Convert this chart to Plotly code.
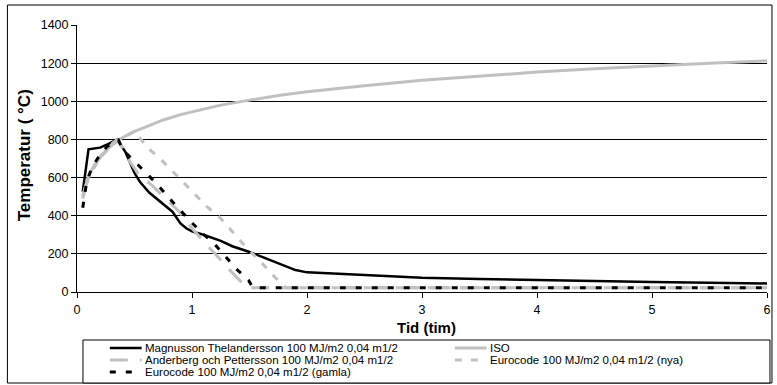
import plotly.graph_objects as go

# ---------------- data ----------------
t_mt = [0.05, 0.1, 0.2, 0.27, 0.35, 0.42, 0.5, 0.55, 0.63, 0.75, 0.83, 0.9, 0.95, 1.0, 1.1, 1.25, 1.35,
        1.5, 1.75, 1.9, 2.0, 2.25, 2.5, 3.0, 3.5, 4.0, 4.5, 5.0, 5.5, 6.0]
T_mt = [526, 748, 757, 775, 800, 735, 625, 575, 520, 460, 421, 360, 334, 318, 300, 268, 240,
        210, 150, 115, 103, 95, 88, 75, 68, 62, 57, 52, 48, 45]

t_iso = [0.05, 0.1, 0.15, 0.2, 0.25, 0.35, 0.5, 0.6, 0.75, 0.9, 1.0, 1.25, 1.5, 1.75, 2.0,
         2.5, 3.0, 3.5, 4.0, 4.5, 5.0, 5.5, 6.0]
T_iso = [500, 605, 665, 705, 740, 795, 842, 866, 902, 930, 945, 980, 1006, 1030, 1050,
         1082, 1110, 1133, 1153, 1170, 1186, 1200, 1212]

t_ap = [0.05, 0.1, 0.2, 0.3, 0.35, 0.39, 0.46, 0.54, 0.65, 0.79, 0.89, 0.96, 1.05, 1.13, 1.25,
        1.31, 1.43, 1.48, 2.0, 3.0, 4.0, 5.0, 6.0]
T_ap = [505, 610, 710, 775, 800, 762, 683, 613, 560, 482, 421, 362, 299, 246, 168,
        126, 52, 22, 22, 22, 22, 22, 22]

t_nya = [0.05, 0.1, 0.2, 0.3, 0.4, 0.5, 0.62, 0.72, 0.92, 1.03, 1.13, 1.24, 1.34, 1.44, 1.61,
         1.73, 1.82, 2.0, 3.0, 4.0, 5.0, 6.0]
T_nya = [490, 600, 705, 765, 810, 842, 753, 701, 578, 509, 447, 392, 325, 255, 150,
         72, 22, 22, 22, 22, 22, 22]

t_gam = [0.05, 0.084, 0.127, 0.18, 0.26, 0.36, 0.4, 0.49, 0.59, 0.69, 0.79, 0.89, 0.99, 1.09,
         1.19, 1.28, 1.38, 1.49, 1.53, 2.0, 3.0, 4.0, 5.0, 6.0]
T_gam = [442, 578, 649, 701, 762, 797, 745, 692, 631, 570, 500, 434, 369, 308,
         255, 194, 124, 63, 22, 22, 22, 22, 22, 22]

names = ["Magnusson Thelandersson 100 MJ/m2 0,04 m1/2",
         "ISO",
         "Anderberg och Pettersson 100 MJ/m2 0,04 m1/2",
         "Eurocode 100 MJ/m2 0,04 m1/2 (nya)",
         "Eurocode 100 MJ/m2 0,04 m1/2 (gamla)"]

x_ticks = [0, 1, 2, 3, 4, 5, 6]
y_ticks = [0, 200, 400, 600, 800, 1000, 1200, 1400]
x_title = "Tid (tim)"
y_title = "Temperatur ( °C)"

# ---------------- styles ----------------
GRAY = "#c0c0c0"
styles = [
    dict(color="black", width=2.5, dash="solid"),
    dict(color=GRAY, width=3, dash="solid"),
    dict(color=GRAY, width=3, dash="18px,12px"),
    dict(color=GRAY, width=3, dash="7px,9px"),
    dict(color="black", width=3, dash="6px,10px"),
]
series = [(t_mt, T_mt), (t_iso, T_iso), (t_ap, T_ap), (t_nya, T_nya), (t_gam, T_gam)]

FONT = "Liberation Sans, Arial, sans-serif"
W, H = 777, 385
L, R, TOP, BOT = 77, 771, 25, 292  # plot area in pixels


def px(x):
    return (x - L) / (R - L)


def py(y):
    return (BOT - y) / (BOT - TOP)


fig = go.Figure()
for (tx, ty), nm, st in zip(series, names, styles):
    fig.add_trace(go.Scatter(x=tx, y=ty, mode="lines", name=nm, line=st,
                             showlegend=False))

shapes = []
annotations = []
# outer chart border
shapes.append(dict(type="rect", xref="paper", yref="paper",
                   x0=px(7), x1=px(776), y0=py(383), y1=py(5),
                   line=dict(color="black", width=1), layer="below"))
# legend box
shapes.append(dict(type="rect", xref="paper", yref="paper",
                   x0=px(83), x1=px(774), y0=py(383), y1=py(340),
                   line=dict(color="black", width=1), fillcolor="white", layer="below"))
# custom legend entries
leg_pos = [(110, 348), (457, 348), (110, 360), (457, 360), (110, 372)]
for (lx, ly), nm, st in zip(leg_pos, names, styles):
    shapes.append(dict(type="line", xref="paper", yref="paper",
                       x0=px(lx), x1=px(lx + 32), y0=py(ly), y1=py(ly),
                       line=st))
    annotations.append(dict(text=nm, xref="paper", yref="paper",
                            x=px(lx + 33), y=py(ly), xanchor="left", yanchor="middle",
                            showarrow=False, font=dict(family=FONT, size=11.5, color="black")))

# axis titles
annotations.append(dict(text="<b>%s</b>" % x_title, xref="paper", yref="paper",
                        x=px(429), y=py(327), xanchor="center", yanchor="middle",
                        showarrow=False, font=dict(family=FONT, size=15, color="black")))
annotations.append(dict(text="<b>%s</b>" % y_title, xref="paper", yref="paper",
                        x=px(24), y=py(155), xanchor="center", yanchor="middle", textangle=-90,
                        showarrow=False, font=dict(family=FONT, size=17, color="black")))

fig.update_layout(
    width=W, height=H,
    margin=dict(l=L, r=W - R, t=TOP, b=H - BOT),
    paper_bgcolor="white", plot_bgcolor="white",
    font=dict(family=FONT, size=12.5, color="black"),
    shapes=shapes, annotations=annotations,
    showlegend=False,
)
fig.update_xaxes(range=[0, 6], tickvals=x_ticks, ticktext=[str(v) for v in x_ticks],
                 showgrid=False, showline=True, linecolor="black", linewidth=1,
                 ticks="outside", ticklen=5, tickcolor="black", zeroline=False,
                 ticklabelstandoff=1, tickfont=dict(family=FONT, size=12.5))
fig.update_yaxes(range=[0, 1400], tickvals=y_ticks, ticktext=[str(v) for v in y_ticks],
                 showgrid=True, gridcolor="black", gridwidth=1,
                 showline=True, linecolor="black", linewidth=1,
                 ticks="outside", ticklen=5, tickcolor="black", zeroline=False,
                 tickfont=dict(family=FONT, size=12.5))

fig.write_html("out.html")
